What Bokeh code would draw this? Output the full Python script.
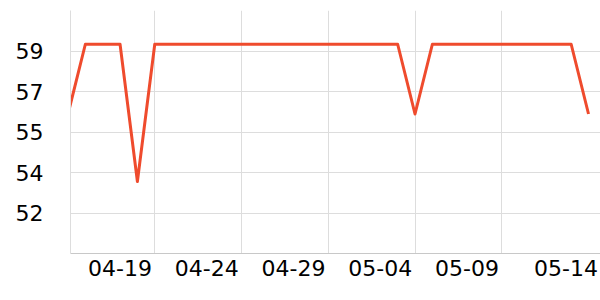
import datetime as dt
from bokeh.plotting import figure
from bokeh.models import FixedTicker, Range1d
from bokeh.embed import file_html
from bokeh.resources import INLINE

# data
start_day = dt.datetime(2024, 4, 14)
values = [56.2, 59.3, 59.3, 59.3, 53.2, 59.3, 59.3, 59.3, 59.3, 59.3,
          59.3, 59.3, 59.3, 59.3, 59.3, 59.3, 59.3, 59.3, 59.3, 59.3,
          56.2, 59.3, 59.3, 59.3, 59.3, 59.3, 59.3, 59.3, 59.3, 59.3,
          56.2]
dates = [start_day + dt.timedelta(days=i) for i in range(len(values))]

y_tick_values = [51.8, 53.6, 55.4, 57.2, 59.0]
y_tick_labels = ["52", "54", "55", "57", "59"]
x_tick_labels = ["04-19", "04-24", "04-29", "05-04", "05-09", "05-14"]
x_tick_dates = [dt.datetime(2024, 4, 19), dt.datetime(2024, 4, 24), dt.datetime(2024, 4, 29),
                dt.datetime(2024, 5, 4), dt.datetime(2024, 5, 9), dt.datetime(2024, 5, 14)]


def ms(d):
    return (d - dt.datetime(1970, 1, 1)).total_seconds() * 1000.0


DAY = 86400000.0
x0 = ms(dt.datetime(2024, 4, 14)) + 0.144 * DAY
x1 = ms(dt.datetime(2024, 5, 14)) + 0.69 * DAY

p = figure(width=600, height=300, output_backend="svg", toolbar_location=None,
           x_axis_type="datetime",
           x_range=Range1d(x0, x1), y_range=Range1d(50.0, 60.8))
p.min_border_left = 70
p.min_border_right = 0
p.min_border_top = 10
p.min_border_bottom = 47
p.outline_line_color = None
p.background_fill_color = "white"
p.border_fill_color = "white"

p.line([ms(d) for d in dates], values, line_color="#ef4b2d", line_width=3, line_join="round")

# x axis: label centres sit left of the grid lines (labels end at the grid line)
label_pos = [ms(d) - 2.0 * DAY for d in x_tick_dates]
label_pos[-1] = ms(x_tick_dates[-1]) - 1.3 * DAY
xax = p.xaxis[0]
xax.ticker = FixedTicker(ticks=label_pos)
xax.major_label_overrides = {v: t for v, t in zip(label_pos, x_tick_labels)}
xax.major_label_text_font = "DejaVu Sans"
xax.major_label_text_font_size = "22px"
xax.major_label_text_color = "black"
xax.major_label_standoff = 6
xax.major_tick_line_color = None
xax.minor_tick_line_color = None
xax.major_tick_out = 0
xax.axis_line_color = "#c8c8c8"
xax.axis_line_width = 1

p.xgrid.ticker = FixedTicker(ticks=[ms(d) for d in x_tick_dates[:-1]])
p.xgrid.grid_line_color = "#dddddd"

yax = p.yaxis[0]
yax.ticker = FixedTicker(ticks=y_tick_values)
yax.major_label_overrides = {v: t for v, t in zip(y_tick_values, y_tick_labels)}
yax.major_label_text_font = "DejaVu Sans"
yax.major_label_text_font_size = "22px"
yax.major_label_text_color = "black"
yax.major_label_standoff = 27
yax.major_tick_line_color = None
yax.minor_tick_line_color = None
yax.major_tick_out = 0
yax.axis_line_color = "#dddddd"
p.ygrid.grid_line_color = "#dddddd"

open("out.html", "w").write(file_html(p, INLINE))
